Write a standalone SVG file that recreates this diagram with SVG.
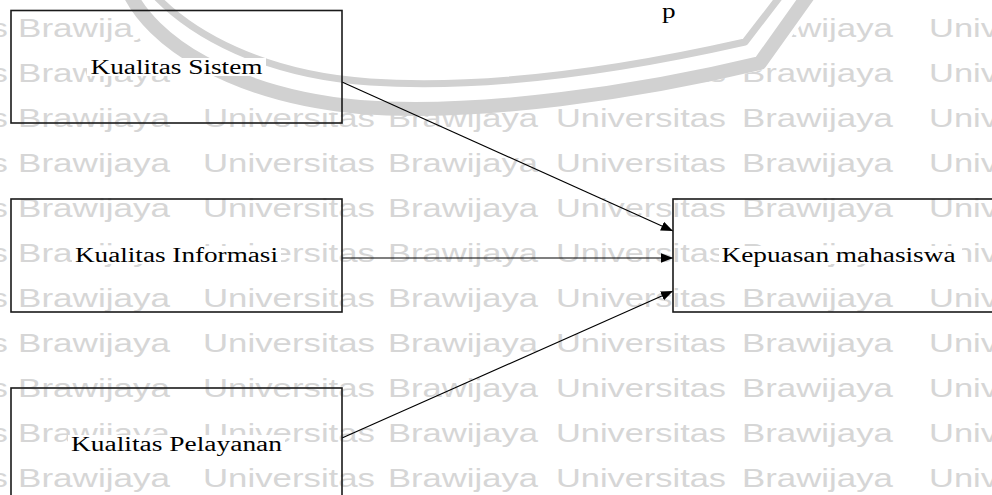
<svg xmlns="http://www.w3.org/2000/svg" xmlns:xlink="http://www.w3.org/1999/xlink" width="992" height="495" viewBox="0 0 992 495">
  <style>
    .wm { font-family: "Liberation Sans", Arial, sans-serif; font-size: 25.5px; fill: #d6d6d6; }
    .box { fill: none; stroke: #1a1a1a; stroke-width: 1.6; }
    .lbl { font-family: "Liberation Serif", "Times New Roman", serif; font-size: 20px; fill: #000; }
    .lbl-bg { fill: #ffffff; }
    .conn { fill: none; stroke: #000; stroke-width: 1.1; }
    .band { fill: none; stroke: #d1d1d1; stroke-linejoin: round; }
  </style>
  <defs>
    <marker id="arrow" markerUnits="userSpaceOnUse" markerWidth="13" markerHeight="10" refX="12" refY="4.75" orient="auto">
      <path d="M0,0 L12,4.75 L0,9.5 Z" fill="#000"/>
    </marker>
    <!-- one line of the background lettering, baseline at y=0 -->
    <g id="wm-row">
      <text class="wm" x="-164" y="0" textLength="172" lengthAdjust="spacingAndGlyphs">Universitas</text>
      <text class="wm" x="18" y="0" textLength="152" lengthAdjust="spacingAndGlyphs">Brawijaya</text>
      <text class="wm" x="203" y="0" textLength="172" lengthAdjust="spacingAndGlyphs">Universitas</text>
      <text class="wm" x="388" y="0" textLength="150" lengthAdjust="spacingAndGlyphs">Brawijaya</text>
      <text class="wm" x="556" y="0" textLength="170" lengthAdjust="spacingAndGlyphs">Universitas</text>
      <text class="wm" x="742" y="0" textLength="151" lengthAdjust="spacingAndGlyphs">Brawijaya</text>
      <text class="wm" x="929" y="0" textLength="69" lengthAdjust="spacingAndGlyphs">Univ</text>
    </g>
  </defs>

  <rect x="0" y="0" width="992" height="495" fill="#ffffff"/>

  <!-- background lettering -->
  <g id="watermark">
    <use xlink:href="#wm-row" y="-8"/>
    <use xlink:href="#wm-row" y="37"/>
    <use xlink:href="#wm-row" y="82"/>
    <use xlink:href="#wm-row" y="127"/>
    <use xlink:href="#wm-row" y="172"/>
    <use xlink:href="#wm-row" y="217"/>
    <use xlink:href="#wm-row" y="262"/>
    <use xlink:href="#wm-row" y="307"/>
    <use xlink:href="#wm-row" y="352"/>
    <use xlink:href="#wm-row" y="397"/>
    <use xlink:href="#wm-row" y="442"/>
    <use xlink:href="#wm-row" y="487"/>
  </g>

  <!-- emblem outline at the top: white interior with two grey bands -->
  <g id="logo">
    <path d="M128,-2 C128,45 170,85 250,104 C290,112 330,113 360,113 C480,122 640,98 766,69 L822,-2 Z" fill="#ffffff"/>
    <path class="band" stroke-width="14" d="M128,-10 C150,40 230,95 360,107 C480,116 640,92 760,63 L812,-10"/>
    <path class="band" stroke-width="7" d="M150,-10 C190,35 265,75 370,82 C490,90 630,68 745,42 L785,-10"/>
    <text class="lbl" x="662" y="18" textLength="13.6" lengthAdjust="spacingAndGlyphs">p</text>
  </g>

  <!-- connectors -->
  <g id="connectors">
    <line class="conn" x1="342" y1="82" x2="673" y2="231" marker-end="url(#arrow)"/>
    <line class="conn" x1="342" y1="258" x2="673" y2="258" marker-end="url(#arrow)"/>
    <line class="conn" x1="342" y1="438" x2="673" y2="291" marker-end="url(#arrow)"/>
  </g>

  <!-- nodes -->
  <g id="node-kualitas-sistem">
    <rect class="box" x="11" y="10.5" width="331" height="112.5"/>
    <rect class="lbl-bg" x="87" y="58" width="179" height="18"/>
    <text class="lbl" x="90.5" y="74" textLength="172" lengthAdjust="spacingAndGlyphs">Kualitas Sistem</text>
  </g>

  <g id="node-kualitas-informasi">
    <rect class="box" x="11" y="199" width="331" height="113"/>
    <rect class="lbl-bg" x="72" y="246" width="209" height="18"/>
    <text class="lbl" x="75" y="262" textLength="203" lengthAdjust="spacingAndGlyphs">Kualitas Informasi</text>
  </g>

  <g id="node-kualitas-pelayanan">
    <rect class="box" x="11" y="388" width="331" height="113"/>
    <rect class="lbl-bg" x="68" y="435" width="217" height="18"/>
    <text class="lbl" x="71" y="451" textLength="211" lengthAdjust="spacingAndGlyphs">Kualitas Pelayanan</text>
  </g>

  <g id="node-kepuasan-mahasiswa">
    <rect class="box" x="673" y="199" width="331" height="113"/>
    <rect class="lbl-bg" x="719" y="246" width="243" height="18"/>
    <text class="lbl" x="721.5" y="262" textLength="234" lengthAdjust="spacingAndGlyphs">Kepuasan mahasiswa</text>
  </g>
</svg>
